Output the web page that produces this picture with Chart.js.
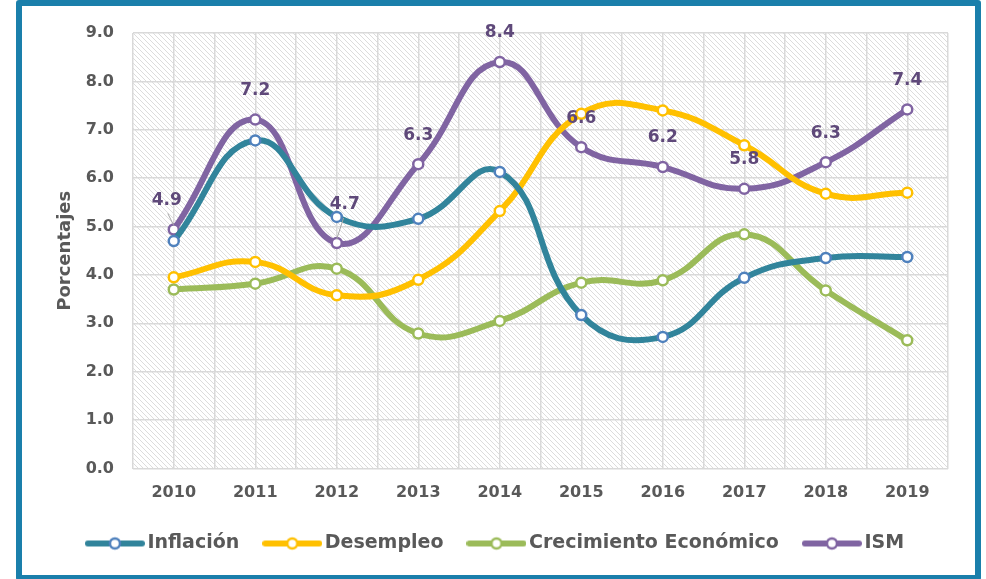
<!DOCTYPE html>
<html>
<head>
<meta charset="utf-8">
<script src="https://cdn.jsdelivr.net/npm/chart.js@4/dist/chart.umd.min.js"></script>
<style>
  html, body { margin: 0; padding: 0; background: #fff; }
  #wrap { position: relative; width: 986px; height: 579px; overflow: hidden; }
  #frame {
    position: absolute; left: 16px; top: 0; width: 965px; height: 581px;
    box-sizing: border-box; border: 6px solid #1a7fab; border-radius: 3px;
    pointer-events: none;
  }
</style>
</head>
<body>
<div id="wrap">
  <canvas id="chart"></canvas>
  <div id="frame"></div>
</div>
<script>
const years = ['2010','2011','2012','2013','2014','2015','2016','2017','2018','2019'];
const inflacion   = [4.70, 6.78, 5.20, 5.16, 6.13, 3.17, 2.72, 3.94, 4.35, 4.37];
const desempleo   = [3.95, 4.27, 3.58, 3.90, 5.32, 7.33, 7.40, 6.68, 5.68, 5.70];
const crecimiento = [3.70, 3.82, 4.13, 2.79, 3.05, 3.84, 3.89, 4.84, 3.68, 2.65];
const ism         = [4.94, 7.21, 4.66, 6.29, 8.40, 6.64, 6.23, 5.78, 6.33, 7.42];

const FONT = "'DejaVu Sans', Verdana, sans-serif";
const GRID = '#d9d9d9';
const TEXT = '#595959';

// hatched background of the plot area
function makeHatch() {
  const c = document.createElement('canvas');
  c.width = 5; c.height = 5;
  const g = c.getContext('2d');
  g.fillStyle = '#fff';
  g.fillRect(0, 0, 5, 5);
  g.strokeStyle = '#dcdcdc';
  g.lineWidth = 1;
  g.beginPath();
  g.moveTo(0, 0); g.lineTo(5, 5);
  g.moveTo(-2.5, 2.5); g.lineTo(2.5, 7.5);
  g.moveTo(2.5, -2.5); g.lineTo(7.5, 2.5);
  g.stroke();
  return c;
}

// legend marker: line with a hollow point in the middle
function legendIcon(line, point) {
  const c = document.createElement('canvas');
  c.width = 60; c.height = 16;
  const g = c.getContext('2d');
  g.strokeStyle = line;
  g.lineWidth = 6;
  g.lineCap = 'round';
  g.beginPath();
  g.moveTo(3, 8); g.lineTo(57, 8);
  g.stroke();
  g.beginPath();
  g.arc(30, 8, 5, 0, Math.PI * 2);
  g.fillStyle = '#fff';
  g.fill();
  g.lineWidth = 2.5;
  g.strokeStyle = point;
  g.stroke();
  return c;
}

const hatchPlugin = {
  id: 'hatch',
  beforeDraw(chart) {
    const {ctx, chartArea: a} = chart;
    ctx.save();
    ctx.fillStyle = ctx.createPattern(makeHatch(), 'repeat');
    ctx.fillRect(a.left, a.top, a.right - a.left, a.bottom - a.top);
    ctx.restore();
  }
};

// ISM value labels
const ismLabels = {
  id: 'ismLabels',
  afterDatasetsDraw(chart) {
    const ctx = chart.ctx;
    const meta = chart.getDatasetMeta(3);
    ctx.save();
    ctx.font = 'bold 17px ' + FONT;
    ctx.fillStyle = '#5f497a';
    ctx.textAlign = 'center';
    ctx.textBaseline = 'middle';
    meta.data.forEach((pt, i) => {
      let dx = 0, dy = -29;
      if (i === 0) { dx = -7; }
      if (i === 2) { dx = 8; dy = -38; }
      if (i === 0 || i === 2) {
        ctx.strokeStyle = '#a6a6a6';
        ctx.lineWidth = 1;
        ctx.beginPath();
        ctx.moveTo(pt.x + dx * 0.85, pt.y + dy + 13);
        ctx.lineTo(pt.x, pt.y - 4);
        ctx.stroke();
      }
      ctx.fillText(ism[i].toFixed(1), pt.x + dx, pt.y + dy);
    });
    ctx.restore();
  }
};

function series(label, data, line, point) {
  return {
    label, data,
    borderColor: line,
    backgroundColor: line,
    borderWidth: 6,
    tension: 0.45,
    pointRadius: 5,
    pointHoverRadius: 5,
    pointBorderWidth: 2.5,
    pointBackgroundColor: '#fff',
    pointBorderColor: point,
    clip: false
  };
}

const icons = [
  legendIcon('#31849b', '#4f81bd'),
  legendIcon('#ffc000', '#ffc000'),
  legendIcon('#9bbb59', '#9bbb59'),
  legendIcon('#8064a2', '#8064a2')
];

new Chart(document.getElementById('chart'), {
  type: 'line',
  data: {
    labels: years,
    datasets: [
      series('Inflación', inflacion, '#31849b', '#4f81bd'),
      series('Desempleo', desempleo, '#ffc000', '#ffc000'),
      series('Crecimiento Económico', crecimiento, '#9bbb59', '#9bbb59'),
      series('ISM', ism, '#8064a2', '#8064a2')
    ]
  },
  options: {
    responsive: true,
    maintainAspectRatio: false,
    animation: false,
    events: [],
    layout: { padding: { left: 48, right: 38, top: 33, bottom: 16 } },
    scales: {
      x: {
        type: 'category',
        offset: true,
        afterFit(scale) { scale.height = 35.5; },
        grid: { offset: true, color: GRID, lineWidth: 1.5, drawTicks: false },
        border: { display: false },
        ticks: { color: TEXT, font: { family: FONT, size: 16, weight: 'bold' }, padding: 15 }
      },
      x2: {
        type: 'category',
        labels: years,
        position: 'bottom',
        offset: true,
        afterFit(scale) { scale.height = 0; },
        grid: { offset: false, color: GRID, lineWidth: 1.5, drawTicks: false },
        border: { display: false },
        ticks: { display: false }
      },
      y: {
        min: 0,
        max: 9,
        afterFit(scale) { scale.width = 85; },
        ticks: {
          stepSize: 1,
          color: TEXT,
          padding: 19,
          font: { family: FONT, size: 16, weight: 'bold' },
          callback: v => v.toFixed(1)
        },
        grid: { color: GRID, lineWidth: 1.5, drawTicks: false },
        border: { display: false },
        title: {
          display: true,
          text: 'Porcentajes',
          color: TEXT,
          font: { family: FONT, size: 18, weight: 'bold' },
          padding: { top: 7, bottom: 0 }
        }
      }
    },
    plugins: {
      tooltip: { enabled: false },
      legend: {
        position: 'bottom',
        labels: {
          usePointStyle: true,
          pointStyleWidth: 46,
          boxHeight: 16,
          padding: 30,
          color: TEXT,
          font: { family: FONT, size: 19, weight: 'bold' },
          generateLabels(chart) {
            const items = Chart.defaults.plugins.legend.labels.generateLabels(chart);
            items.forEach((it, i) => { it.pointStyle = icons[i]; });
            return items;
          }
        }
      }
    }
  },
  plugins: [hatchPlugin, ismLabels]
});
</script>
</body>
</html>
